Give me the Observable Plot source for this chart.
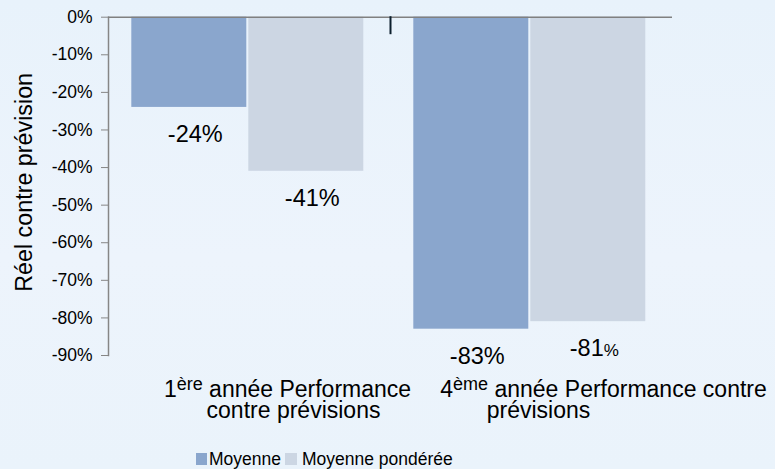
<!DOCTYPE html>
<html>
<head>
<meta charset="utf-8">
<script src="https://cdn.jsdelivr.net/npm/d3@7"></script>
<script src="https://cdn.jsdelivr.net/npm/@observablehq/plot@0.6"></script>
<style>
  html, body { margin: 0; padding: 0; }
  body {
    width: 775px; height: 469px; overflow: hidden;
    background: linear-gradient(180deg, #e8f2fb 0%, #edf4fc 55%, #eaf3fb 100%);
    font-family: "Liberation Sans", Arial, sans-serif;
  }
  svg text { font-family: "Liberation Sans", Arial, sans-serif; }
  g[aria-label="y-axis tick label"] text { font-size: 17.5px; }
  #legend {
    height: 20px; line-height: 20px; font-size: 17.5px; white-space: nowrap;
    padding-left: 196px; color: #000;
  }
  #legend .sw { display: inline-block; width: 11px; height: 12px; margin-right: 2px; vertical-align: baseline; }
  #legend .sw + .it + .sw { width: 12px; }
  #legend .it { margin-right: 4px; }
  #legend .it:last-child { margin-left: 3px; }
</style>
</head>
<body>
<div id="chart"></div>
<div id="legend"></div>
<script>
// ---- data ----
const categories = ["1ère année Performance contre prévisions", "4ème année Performance contre prévisions"];
const categoryLines = [["1ère année Performance", "contre prévisions"], ["4ème année Performance contre", "prévisions"]];
const seriesNames = ["Moyenne", "Moyenne pondérée"];
const moyenne = [-24, -83];
const moyennePonderee = [-41, -81];
const yTicks = [0, -10, -20, -30, -40, -50, -60, -70, -80, -90];
const seriesColors = ["#8aa6cd", "#ccd6e3"];
const yTitle = "Réel contre prévision";

const rows = categories.flatMap((c, i) => [
  {category: c, series: seriesNames[0], value: moyenne[i]},
  {category: c, series: seriesNames[1], value: moyennePonderee[i]}
]);

// label line offsets (style only)
const lineDx = [[38, 44], [72, 7]];
const lineDy = [34, 55];

const labelMarks = categories.flatMap((c, i) =>
  categoryLines[i].map((line, j) =>
    Plot.text([c], {
      fx: d => d, text: () => line, frameAnchor: "bottom", lineAnchor: "middle", textAnchor: "middle",
      dx: lineDx[i][j], dy: lineDy[j], fontSize: 23, fill: "#000"
    })
  )
);

const chart = Plot.plot({
  width: 775, height: 449,
  marginLeft: 107.7, marginRight: 102, marginTop: 16.7, marginBottom: 94,
  style: {background: "transparent", fontFamily: "'Liberation Sans', Arial, sans-serif", overflow: "visible"},
  fx: {domain: categories, padding: 0, axis: null},
  x: {domain: seriesNames, paddingInner: 0.0144, paddingOuter: 0.208, align: 0.475, axis: null},
  y: {domain: [-90, 0]},
  color: {domain: seriesNames, range: seriesColors},
  marks: [
    Plot.barY(rows, {fx: "category", x: "series", y: "value", fill: "series"}),
    Plot.axisY(yTicks, {tickSize: 7, tickPadding: 9, tickFormat: d => `${d}%`, fontSize: 17.5, stroke: "#868686", fill: "#000", label: null}),
    Plot.frame({anchor: "left", facetAnchor: "left", stroke: "#868686", strokeWidth: 1.5}),
    Plot.ruleY([0], {stroke: "#808080", strokeWidth: 1.5}),
    Plot.frame({anchor: "left", facetAnchor: "right", insetBottom: 322.3, stroke: "#0c1f2d", strokeWidth: 2}),
    Plot.text(rows, {fx: "category", x: "series", y: "value", text: d => `${d.value}%`, dx: 6, dy: 27, fontSize: 23.5, fill: "#000"}),
    Plot.text([yTitle], {frameAnchor: "left", facetAnchor: "left", rotate: -90, textAnchor: "middle", lineAnchor: "middle", dx: -84, dy: -4, fontSize: 23.3, fill: "#000"}),
    ...labelMarks
  ]
});
document.getElementById("chart").appendChild(chart);

const SVGNS = "http://www.w3.org/2000/svg";
chart.querySelectorAll("text").forEach(t => {
  if (t.closest('g[aria-label="y-axis tick label"]')) return;
  // superscripts for ordinal suffixes
  const m = t.textContent.match(/^(\d)(ère|ème)(.*)$/);
  if (m) {
    t.textContent = m[1];
    const sup = document.createElementNS(SVGNS, "tspan");
    sup.setAttribute("font-size", "18");
    sup.setAttribute("dy", "-7");
    sup.textContent = m[2];
    const rest = document.createElementNS(SVGNS, "tspan");
    rest.setAttribute("dy", "7");
    rest.textContent = m[3];
    t.appendChild(sup);
    t.appendChild(rest);
  }
  // smaller percent sign on the last data label, as in the original
  if (t.textContent === `${moyennePonderee[1]}%`) {
    t.textContent = `${moyennePonderee[1]}`;
    const p = document.createElementNS(SVGNS, "tspan");
    p.setAttribute("font-size", "17");
    p.textContent = "%";
    t.appendChild(p);
  }
});

// legend
const legend = document.getElementById("legend");
seriesNames.forEach((s, i) => {
  const sw = document.createElement("span");
  sw.className = "sw";
  sw.style.background = seriesColors[i];
  const lab = document.createElement("span");
  lab.className = "it";
  lab.textContent = s;
  legend.appendChild(sw);
  legend.appendChild(lab);
});
</script>
</body>
</html>
